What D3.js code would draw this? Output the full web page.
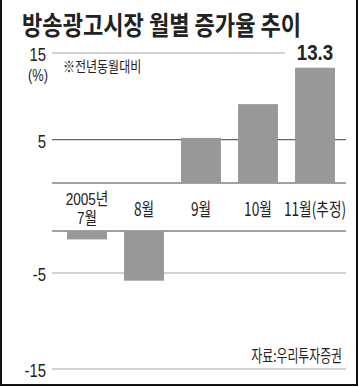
<!DOCTYPE html>
<html>
<head>
<meta charset="utf-8">
<script src="https://cdn.jsdelivr.net/npm/d3@7"></script>
<style>
  html, body { margin: 0; padding: 0; background: #fff; }
  svg { display: block; }
  text { font-family: "Noto Sans CJK KR", "Noto Sans", sans-serif; fill: #222; }
  text.num { font-family: "Liberation Sans", "Noto Sans CJK KR", sans-serif; }
</style>
</head>
<body>
<div id="chart"></div>
<script>
// monthly growth of broadcast advertising (yoy, %)
const categories = ['2005년\n7월', '8월', '9월', '10월', '11월(추정)'];
const values = [-1.0, -5.8, 5.2, 9.1, 13.3];
const posTicks = [15, 5];
const negTicks = [-5, -15];

const width = 359;
const height = 387;
const gridLeft = 52;
const gridRight = 346;

const svg = d3.select('#chart')
  .append('svg')
  .attr('width', width)
  .attr('height', height);

// scales: the upper panel holds positive values, the lower one negatives
const x = d3.scaleBand()
  .domain(categories)
  .range([58.5, 343.5])
  .paddingInner(0.3)
  .paddingOuter(0.15);

const yPos = d3.scaleLinear().domain([0, 15]).range([183, 53]);
const yNeg = d3.scaleLinear().domain([0, -5, -15]).range([231, 273, 369]);
const yOf = v => v >= 0 ? yPos(v) : yNeg(v);

// condensed text helper
function label(g, str, tx, ty, opts) {
  const o = Object.assign({ size: 17, weight: 400, anchor: 'start', sx: 0.8, cls: null }, opts);
  return g.append('text')
    .attr('class', o.cls)
    .attr('transform', `translate(${tx},${ty}) scale(${o.sx},1)`)
    .attr('text-anchor', o.anchor)
    .attr('font-size', o.size)
    .attr('font-weight', o.weight)
    .text(str);
}

// grid lines
const grid = svg.append('g');
grid.selectAll('line.tick')
  .data(posTicks.concat(negTicks))
  .enter().append('line')
  .attr('class', 'tick')
  .attr('x1', gridLeft)
  .attr('x2', d => d === 15 ? 285 : gridRight)
  .attr('y1', d => yOf(d))
  .attr('y2', d => yOf(d))
  .attr('stroke', d => d === 5 ? '#666' : '#a8a8a8')
  .attr('stroke-width', 1.2);

// bars
svg.append('g')
  .selectAll('rect')
  .data(values)
  .enter().append('rect')
  .attr('x', (d, i) => x(categories[i]))
  .attr('width', x.bandwidth())
  .attr('y', d => d >= 0 ? yPos(d) : yNeg(0))
  .attr('height', d => d >= 0 ? yPos(0) - yPos(d) : yNeg(d) - yNeg(0))
  .attr('fill', '#98989b');

// baselines of both panels
grid.selectAll('line.zero')
  .data([yPos(0), yNeg(0)])
  .enter().append('line')
  .attr('class', 'zero')
  .attr('x1', gridLeft)
  .attr('x2', gridRight)
  .attr('y1', d => d)
  .attr('y2', d => d)
  .attr('stroke', '#444')
  .attr('stroke-width', 1.2);

// y tick labels
const axis = svg.append('g');
posTicks.concat(negTicks).forEach(t => {
  label(axis, String(t), 46, yOf(t) + 8, { size: 19, anchor: 'end', sx: 0.78, cls: 'num' });
});
label(axis, '(%)', 38, 81, { size: 16, anchor: 'middle', cls: 'num' });

// category labels
const cats = svg.append('g');
categories.forEach(c => {
  const cx = x(c) + x.bandwidth() / 2;
  const lines = c.split('\n');
  if (lines.length === 2) {
    // tight two-line label: Liberation metrics keep the line boxes apart
    label(cats, lines[0], cx, 205, { size: 17, anchor: 'middle', sx: 0.8, cls: 'num' });
    label(cats, lines[1], cx, 224, { size: 17, anchor: 'middle', sx: 0.8, cls: 'num' });
  } else {
    label(cats, c, cx, 216, { size: 18.5, anchor: 'middle', sx: 0.74 });
  }
});

// value label on the last bar
const last = categories.length - 1;
label(svg, values[last].toFixed(1), x(categories[last]) + x.bandwidth() / 2, 60,
  { size: 22, weight: 700, anchor: 'middle', sx: 0.85, cls: 'num' });

// title, note, source
label(svg, '방송광고시장 월별 증가율 추이', 22, 35, { size: 26, weight: 700, sx: 0.85 });
label(svg, '※전년동월대비', 63, 72, { size: 15 });
label(svg, '자료:우리투자증권', 342, 362, { size: 16.5, anchor: 'end', sx: 0.72 });

// frame (left, right, bottom)
svg.append('path')
  .attr('d', `M1,0V${height - 2}H${width - 2}V0`)
  .attr('fill', 'none')
  .attr('stroke', '#111')
  .attr('stroke-width', 2);
</script>
</body>
</html>
